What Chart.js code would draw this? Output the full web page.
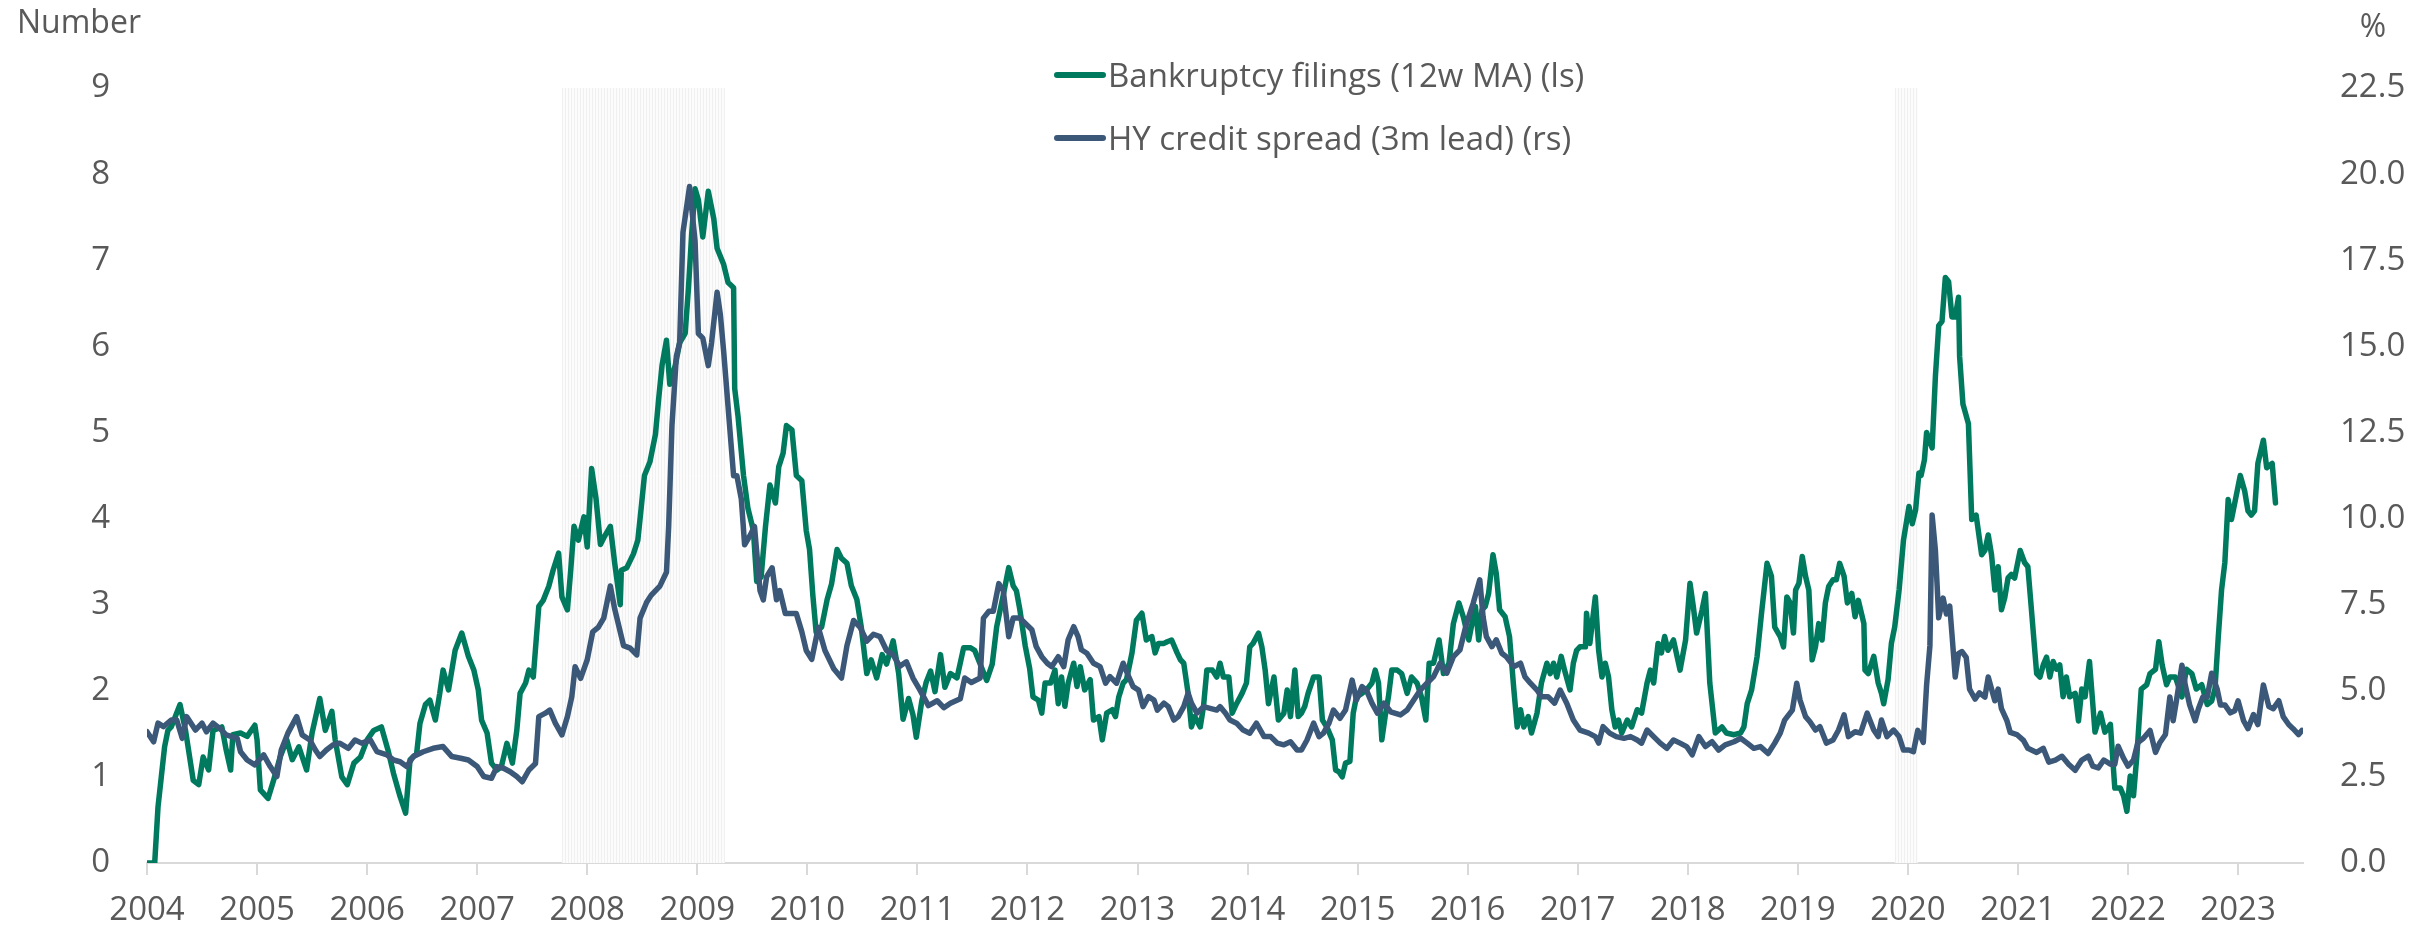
<!DOCTYPE html>
<html>
<head>
<meta charset="utf-8">
<script src="https://cdn.jsdelivr.net/npm/chart.js@4.4.0/dist/chart.umd.min.js"></script>
<style>
  html, body { margin: 0; padding: 0; background: #ffffff; }
  #wrap { width: 2433px; height: 932px; position: relative; }
</style>
</head>
<body>
<div id="wrap"><canvas id="filingsChart"></canvas></div>
<script>
// values (dates as decimal years)

const seriesLabels = ["Bankruptcy filings (12w MA) (ls)", "HY credit spread (3m lead) (rs)"];
const axisTitles = ["Number", "%"];

// recession shading, start and end in decimal years
const recessionBands = [
  [2007.77, 2009.25],
  [2019.88, 2020.09],
];

const bankruptcyDates = [
  2004.00, 2004.07, 2004.10, 2004.13, 2004.16, 2004.19, 2004.22, 2004.30, 2004.35, 2004.42, 2004.47, 2004.51, 2004.56, 2004.60, 2004.68, 2004.72, 2004.76, 2004.78, 2004.85, 2004.91, 2004.98,
  2005.00, 2005.03, 2005.10, 2005.15, 2005.21, 2005.27, 2005.32, 2005.38, 2005.45, 2005.50, 2005.57, 2005.62, 2005.68, 2005.71, 2005.77, 2005.82, 2005.88, 2005.94,
  2006.00, 2006.06, 2006.13, 2006.19, 2006.24, 2006.30, 2006.35, 2006.39, 2006.45, 2006.48, 2006.53, 2006.57, 2006.62, 2006.66, 2006.69, 2006.74, 2006.80, 2006.86, 2006.92, 2006.97,
  2007.01, 2007.04, 2007.09, 2007.13, 2007.18, 2007.22, 2007.27, 2007.32, 2007.36, 2007.39, 2007.44, 2007.47, 2007.51, 2007.56, 2007.60, 2007.65, 2007.69, 2007.74, 2007.77, 2007.82, 2007.85, 2007.88, 2007.92, 2007.97,
  2008.00, 2008.04, 2008.08, 2008.12, 2008.16, 2008.21, 2008.25, 2008.30, 2008.31, 2008.36, 2008.42, 2008.46, 2008.49, 2008.52, 2008.57, 2008.62, 2008.65, 2008.68, 2008.72, 2008.75, 2008.80, 2008.84, 2008.89, 2008.92, 2008.95, 2008.98,
  2009.01, 2009.05, 2009.10, 2009.15, 2009.18, 2009.24, 2009.28, 2009.33, 2009.34, 2009.37, 2009.42, 2009.46, 2009.51, 2009.54, 2009.58, 2009.62, 2009.66, 2009.71, 2009.74, 2009.78, 2009.81, 2009.86, 2009.90, 2009.95, 2009.99,
  2010.02, 2010.05, 2010.08, 2010.13, 2010.18, 2010.22, 2010.27, 2010.31, 2010.36, 2010.40, 2010.45, 2010.49, 2010.54, 2010.58, 2010.63, 2010.68, 2010.72, 2010.78, 2010.83, 2010.87, 2010.92, 2010.96, 2010.99,
  2011.04, 2011.08, 2011.12, 2011.16, 2011.21, 2011.25, 2011.30, 2011.36, 2011.42, 2011.48, 2011.52, 2011.57, 2011.63, 2011.68, 2011.72, 2011.78, 2011.83, 2011.87, 2011.90, 2011.93, 2011.98, 2012.02,
  2012.05, 2012.10, 2012.13, 2012.16, 2012.21, 2012.25, 2012.28, 2012.31, 2012.34, 2012.37, 2012.42, 2012.45, 2012.48, 2012.52, 2012.57, 2012.60, 2012.65, 2012.68, 2012.72, 2012.77, 2012.80, 2012.83, 2012.87, 2012.90, 2012.95, 2012.99,
  2013.04, 2013.08, 2013.13, 2013.16, 2013.19, 2013.24, 2013.27, 2013.31, 2013.36, 2013.39, 2013.42, 2013.46, 2013.49, 2013.52, 2013.57, 2013.60, 2013.63, 2013.68, 2013.72, 2013.75, 2013.78, 2013.83, 2013.86, 2013.90, 2013.95, 2013.99,
  2014.02, 2014.05, 2014.10, 2014.13, 2014.16, 2014.19, 2014.24, 2014.28, 2014.33, 2014.36, 2014.39, 2014.43, 2014.46, 2014.49, 2014.52, 2014.55, 2014.60, 2014.65, 2014.68, 2014.72, 2014.77, 2014.80, 2014.83, 2014.86, 2014.89, 2014.93, 2014.96, 2014.99,
  2015.04, 2015.08, 2015.13, 2015.16, 2015.19, 2015.22, 2015.25, 2015.28, 2015.31, 2015.36, 2015.40, 2015.45, 2015.49, 2015.54, 2015.58, 2015.62, 2015.65, 2015.69, 2015.74, 2015.78, 2015.83, 2015.87, 2015.92, 2015.96,
  2016.01, 2016.07, 2016.10, 2016.13, 2016.16, 2016.19, 2016.23, 2016.26, 2016.29, 2016.34, 2016.38, 2016.42, 2016.45, 2016.48, 2016.51, 2016.55, 2016.58, 2016.63, 2016.67, 2016.72, 2016.75, 2016.78, 2016.81, 2016.85, 2016.88, 2016.93, 2016.96, 2016.99,
  2017.02, 2017.07, 2017.08, 2017.11, 2017.16, 2017.19, 2017.22, 2017.25, 2017.28, 2017.31, 2017.34, 2017.37, 2017.40, 2017.45, 2017.49, 2017.54, 2017.58, 2017.63, 2017.66, 2017.69, 2017.73, 2017.76, 2017.79, 2017.82, 2017.87, 2017.93, 2017.98,
  2018.02, 2018.05, 2018.08, 2018.13, 2018.16, 2018.20, 2018.25, 2018.31, 2018.35, 2018.42, 2018.48, 2018.51, 2018.54, 2018.58, 2018.63, 2018.67, 2018.72, 2018.76, 2018.79, 2018.84, 2018.87, 2018.90, 2018.93, 2018.96, 2018.98,
  2019.01, 2019.04, 2019.07, 2019.10, 2019.13, 2019.16, 2019.19, 2019.22, 2019.25, 2019.28, 2019.32, 2019.35, 2019.38, 2019.42, 2019.45, 2019.49, 2019.52, 2019.55, 2019.60, 2019.61, 2019.64, 2019.69, 2019.73, 2019.76, 2019.78, 2019.82, 2019.85, 2019.88, 2019.92, 2019.96,
  2020.01, 2020.04, 2020.07, 2020.10, 2020.12, 2020.15, 2020.17, 2020.22, 2020.25, 2020.28, 2020.31, 2020.34, 2020.37, 2020.40, 2020.43, 2020.46, 2020.47, 2020.50, 2020.55, 2020.58, 2020.62, 2020.67, 2020.70, 2020.73, 2020.76, 2020.79, 2020.82, 2020.85, 2020.88, 2020.91, 2020.94, 2020.97,
  2021.02, 2021.06, 2021.09, 2021.12, 2021.17, 2021.20, 2021.23, 2021.26, 2021.29, 2021.32, 2021.35, 2021.38, 2021.41, 2021.44, 2021.47, 2021.52, 2021.55, 2021.58, 2021.61, 2021.65, 2021.70, 2021.75, 2021.79, 2021.84, 2021.88, 2021.93, 2021.96, 2021.99,
  2022.02, 2022.05, 2022.08, 2022.12, 2022.17, 2022.20, 2022.25, 2022.28, 2022.31, 2022.35, 2022.38, 2022.43, 2022.49, 2022.53, 2022.58, 2022.62, 2022.67, 2022.72, 2022.76, 2022.79, 2022.82, 2022.85, 2022.88, 2022.91, 2022.94, 2022.97,
  2023.02, 2023.06, 2023.09, 2023.12, 2023.15, 2023.18, 2023.23, 2023.26, 2023.31, 2023.34,
];

const bankruptcyValues = [
  0, 0, 0.65, 1.00, 1.35, 1.54, 1.58, 1.84, 1.54, 0.96, 0.91, 1.23, 1.08, 1.54, 1.58, 1.31, 1.08, 1.49, 1.51, 1.47, 1.60,
  1.43, 0.85, 0.75, 0.96, 1.23, 1.43, 1.20, 1.35, 1.08, 1.51, 1.91, 1.54, 1.76, 1.43, 1.00, 0.91, 1.16, 1.23,
  1.43, 1.54, 1.58, 1.31, 1.04, 0.77, 0.58, 1.20, 1.27, 1.62, 1.84, 1.89, 1.66, 1.97, 2.24, 2.01, 2.47, 2.67, 2.40, 2.24,
  2.01, 1.66, 1.51, 1.16, 1.08, 1.12, 1.39, 1.16, 1.54, 1.97, 2.09, 2.24, 2.16, 2.98, 3.05, 3.21, 3.40, 3.60, 3.09, 2.94, 3.40, 3.91, 3.75, 4.02,
  3.67, 4.58, 4.23, 3.70, 3.80, 3.91, 3.48, 3.00, 3.40, 3.43, 3.59, 3.75, 4.12, 4.50, 4.66, 4.98, 5.40, 5.78, 6.07, 5.56, 5.78, 6.04, 6.15, 6.68, 7.32, 7.83,
  7.70, 7.27, 7.80, 7.48, 7.14, 6.95, 6.74, 6.68, 5.51, 5.19, 4.50, 4.12, 3.86, 3.27, 3.32, 3.91, 4.39, 4.18, 4.60, 4.76, 5.08, 5.03, 4.50, 4.44, 3.86,
  3.64, 3.11, 2.68, 2.74, 3.06, 3.24, 3.64, 3.54, 3.48, 3.22, 3.06, 2.74, 2.20, 2.36, 2.15, 2.42, 2.31, 2.58, 2.20, 1.67, 1.91, 1.72, 1.46,
  1.88, 2.10, 2.23, 1.99, 2.42, 2.04, 2.20, 2.15, 2.50, 2.50, 2.47, 2.31, 2.12, 2.31, 2.74, 3.11, 3.43, 3.22, 3.16, 2.95, 2.52, 2.26,
  1.93, 1.89, 1.74, 2.09, 2.09, 2.24, 1.85, 2.16, 1.82, 2.09, 2.32, 2.05, 2.28, 2.01, 2.13, 1.66, 1.70, 1.43, 1.74, 1.78, 1.70, 1.93, 2.09, 2.13, 2.44, 2.82,
  2.90, 2.59, 2.63, 2.44, 2.55, 2.55, 2.57, 2.59, 2.44, 2.36, 2.32, 1.97, 1.58, 1.70, 1.58, 1.82, 2.24, 2.24, 2.16, 2.32, 2.16, 2.16, 1.74, 1.85, 1.97, 2.09,
  2.51, 2.55, 2.67, 2.51, 2.24, 1.85, 2.16, 1.66, 1.74, 2.01, 1.70, 2.24, 1.70, 1.74, 1.82, 1.97, 2.16, 2.16, 1.66, 1.58, 1.43, 1.08, 1.06, 1.00, 1.16, 1.18, 1.74, 1.93,
  1.97, 2.01, 2.09, 2.24, 2.09, 1.43, 1.70, 1.93, 2.24, 2.24, 2.20, 1.97, 2.16, 2.09, 1.93, 1.66, 2.32, 2.32, 2.59, 2.20, 2.32, 2.78, 3.02, 2.86,
  2.59, 2.98, 2.59, 2.94, 2.98, 3.13, 3.58, 3.36, 2.94, 2.86, 2.63, 2.01, 1.58, 1.78, 1.58, 1.70, 1.51, 1.74, 2.09, 2.32, 2.20, 2.32, 2.16, 2.40, 2.24, 2.01, 2.32, 2.47,
  2.51, 2.51, 2.90, 2.55, 3.09, 2.47, 2.16, 2.32, 2.16, 1.78, 1.58, 1.66, 1.51, 1.66, 1.58, 1.78, 1.74, 2.09, 2.24, 2.09, 2.55, 2.44, 2.63, 2.47, 2.59, 2.24, 2.59,
  3.25, 2.98, 2.67, 2.94, 3.13, 2.09, 1.51, 1.58, 1.51, 1.49, 1.51, 1.58, 1.85, 2.01, 2.40, 2.90, 3.48, 3.33, 2.74, 2.63, 2.51, 3.09, 3.02, 2.67, 3.17,
  3.25, 3.56, 3.33, 3.17, 2.36, 2.51, 2.78, 2.59, 3.02, 3.21, 3.29, 3.29, 3.48, 3.33, 3.02, 3.13, 2.86, 3.05, 2.78, 2.24, 2.20, 2.40, 2.09, 1.97, 1.85, 2.13, 2.55, 2.74, 3.17, 3.75,
  4.14, 3.94, 4.10, 4.53, 4.50, 4.68, 5.00, 4.82, 5.65, 6.24, 6.29, 6.80, 6.75, 6.34, 6.34, 6.57, 5.88, 5.33, 5.10, 3.99, 4.04, 3.58, 3.63, 3.81, 3.58, 3.17, 3.44, 2.94, 3.08, 3.31, 3.35, 3.31,
  3.63, 3.49, 3.44, 2.98, 2.20, 2.16, 2.30, 2.39, 2.16, 2.34, 2.25, 2.30, 1.93, 2.16, 1.93, 1.97, 1.65, 2.02, 1.93, 2.34, 1.52, 1.74, 1.52, 1.61, 0.87, 0.87, 0.78, 0.60,
  1.01, 0.78, 1.24, 2.02, 2.07, 2.20, 2.25, 2.57, 2.30, 2.07, 2.16, 2.16, 1.93, 2.25, 2.20, 2.02, 2.07, 1.84, 1.88, 2.02, 2.62, 3.17, 3.49, 4.22, 3.99, 4.18,
  4.50, 4.32, 4.09, 4.04, 4.09, 4.64, 4.91, 4.59, 4.64, 4.18,
];

const spreadDates = [
  2004.00, 2004.06, 2004.10, 2004.15, 2004.22, 2004.27, 2004.32, 2004.36, 2004.44, 2004.50, 2004.54, 2004.60, 2004.66, 2004.72, 2004.82, 2004.85, 2004.91, 2004.98,
  2005.06, 2005.12, 2005.18, 2005.22, 2005.28, 2005.36, 2005.41, 2005.48, 2005.53, 2005.57, 2005.63, 2005.69, 2005.75, 2005.83, 2005.89, 2005.95,
  2006.03, 2006.09, 2006.18, 2006.24, 2006.30, 2006.36, 2006.42, 2006.51, 2006.60, 2006.69, 2006.77, 2006.85, 2006.92,
  2007.00, 2007.06, 2007.13, 2007.18, 2007.24, 2007.30, 2007.36, 2007.41, 2007.47, 2007.53, 2007.56, 2007.62, 2007.66, 2007.71, 2007.77, 2007.82, 2007.86, 2007.89, 2007.94,
  2008.00, 2008.05, 2008.10, 2008.15, 2008.21, 2008.25, 2008.30, 2008.33, 2008.39, 2008.45, 2008.48, 2008.54, 2008.58, 2008.66, 2008.72, 2008.74, 2008.77, 2008.81, 2008.84, 2008.87, 2008.93, 2008.98,
  2009.01, 2009.05, 2009.10, 2009.13, 2009.18, 2009.21, 2009.24, 2009.28, 2009.33, 2009.36, 2009.40, 2009.43, 2009.48, 2009.52, 2009.57, 2009.60, 2009.63, 2009.68, 2009.72, 2009.75, 2009.80, 2009.86, 2009.90, 2009.95, 2009.99,
  2010.04, 2010.10, 2010.16, 2010.24, 2010.31, 2010.36, 2010.42, 2010.48, 2010.54, 2010.60, 2010.66, 2010.72, 2010.78, 2010.84, 2010.90, 2010.96,
  2011.02, 2011.10, 2011.18, 2011.24, 2011.30, 2011.39, 2011.43, 2011.49, 2011.57, 2011.60, 2011.65, 2011.69, 2011.74, 2011.78, 2011.83, 2011.87, 2011.93,
  2012.04, 2012.08, 2012.13, 2012.18, 2012.22, 2012.28, 2012.33, 2012.37, 2012.42, 2012.46, 2012.49, 2012.54, 2012.60, 2012.66, 2012.71, 2012.75, 2012.81, 2012.87, 2012.92, 2012.96,
  2013.01, 2013.05, 2013.10, 2013.15, 2013.18, 2013.24, 2013.28, 2013.33, 2013.37, 2013.42, 2013.46, 2013.49, 2013.54, 2013.60, 2013.66, 2013.72, 2013.75, 2013.80, 2013.84, 2013.90, 2013.96,
  2014.02, 2014.08, 2014.15, 2014.21, 2014.27, 2014.33, 2014.39, 2014.45, 2014.49, 2014.54, 2014.60, 2014.65, 2014.69, 2014.74, 2014.78, 2014.84, 2014.89, 2014.95, 2014.99,
  2015.04, 2015.08, 2015.13, 2015.18, 2015.24, 2015.30, 2015.39, 2015.45, 2015.51, 2015.57, 2015.63, 2015.69, 2015.75, 2015.81, 2015.87, 2015.93, 2015.99,
  2016.05, 2016.11, 2016.14, 2016.17, 2016.22, 2016.26, 2016.31, 2016.35, 2016.42, 2016.48, 2016.52, 2016.57, 2016.63, 2016.67, 2016.73, 2016.79, 2016.84, 2016.90, 2016.96,
  2017.02, 2017.10, 2017.16, 2017.19, 2017.23, 2017.29, 2017.35, 2017.42, 2017.48, 2017.54, 2017.58, 2017.63, 2017.69, 2017.75, 2017.81, 2017.87, 2017.93, 2017.99,
  2018.04, 2018.10, 2018.16, 2018.22, 2018.28, 2018.34, 2018.42, 2018.48, 2018.54, 2018.60, 2018.66, 2018.73, 2018.79, 2018.84, 2018.88, 2018.95, 2018.99,
  2019.02, 2019.07, 2019.11, 2019.16, 2019.20, 2019.26, 2019.32, 2019.37, 2019.42, 2019.46, 2019.52, 2019.57, 2019.63, 2019.69, 2019.73, 2019.76, 2019.81, 2019.87, 2019.92, 2019.96,
  2020.01, 2020.05, 2020.09, 2020.14, 2020.17, 2020.20, 2020.22, 2020.25, 2020.28, 2020.32, 2020.35, 2020.38, 2020.40, 2020.43, 2020.46, 2020.49, 2020.53, 2020.56, 2020.61, 2020.65, 2020.70, 2020.73, 2020.76, 2020.79, 2020.82, 2020.85, 2020.90, 2020.93, 2020.99,
  2021.05, 2021.09, 2021.17, 2021.23, 2021.28, 2021.34, 2021.40, 2021.46, 2021.52, 2021.58, 2021.64, 2021.68, 2021.73, 2021.78, 2021.84, 2021.88, 2021.91, 2021.96,
  2022.00, 2022.05, 2022.09, 2022.14, 2022.20, 2022.25, 2022.29, 2022.34, 2022.38, 2022.41, 2022.44, 2022.49, 2022.52, 2022.56, 2022.61, 2022.64, 2022.68, 2022.72, 2022.76, 2022.81, 2022.84, 2022.88, 2022.93, 2022.97,
  2023.00, 2023.05, 2023.09, 2023.14, 2023.18, 2023.23, 2023.28, 2023.32, 2023.37, 2023.41, 2023.46, 2023.50, 2023.55, 2023.58,
];

const spreadValues = [
  3.81, 3.52, 4.06, 3.96, 4.15, 4.15, 3.62, 4.25, 3.86, 4.06, 3.81, 4.06, 3.91, 3.72, 3.62, 3.23, 2.99, 2.85,
  3.14, 2.80, 2.51, 3.28, 3.77, 4.25, 3.72, 3.57, 3.28, 3.09, 3.28, 3.43, 3.48, 3.33, 3.57, 3.48,
  3.57, 3.23, 3.14, 2.99, 2.94, 2.80, 3.09, 3.23, 3.33, 3.38, 3.09, 3.04, 2.99,
  2.80, 2.51, 2.46, 2.80, 2.75, 2.65, 2.51, 2.36, 2.70, 2.89, 4.25, 4.35, 4.44, 4.06, 3.72, 4.25, 4.83, 5.70, 5.36,
  5.90, 6.71, 6.84, 7.11, 8.04, 7.37, 6.71, 6.31, 6.24, 6.04, 7.11, 7.57, 7.77, 8.04, 8.44, 9.77, 12.71, 14.71, 15.11, 18.31, 19.64, 18.04,
  15.37, 15.24, 14.44, 15.11, 16.57, 15.91, 14.84, 13.24, 11.24, 11.24, 10.57, 9.24, 9.51, 9.77, 7.91, 7.64, 8.31, 8.57, 7.64, 7.91, 7.24, 7.24, 7.24, 6.71, 6.17,
  5.91, 6.84, 6.17, 5.64, 5.37, 6.31, 7.04, 6.84, 6.44, 6.64, 6.57, 6.17, 6.04, 5.71, 5.84, 5.37,
  5.04, 4.57, 4.71, 4.51, 4.64, 4.77, 5.37, 5.24, 5.37, 7.11, 7.31, 7.31, 8.11, 7.91, 6.57, 7.11, 7.11,
  6.77, 6.28, 5.99, 5.80, 5.70, 5.99, 5.70, 6.48, 6.86, 6.57, 6.19, 6.09, 5.80, 5.70, 5.22, 5.41, 5.22, 5.80, 5.41, 5.12,
  5.02, 4.54, 4.83, 4.73, 4.44, 4.64, 4.54, 4.15, 4.25, 4.54, 4.93, 4.64, 4.35, 4.54, 4.49, 4.44, 4.54, 4.35, 4.15, 4.06, 3.86,
  3.77, 4.06, 3.67, 3.67, 3.48, 3.43, 3.52, 3.28, 3.28, 3.57, 4.06, 3.67, 3.77, 4.06, 4.44, 4.20, 4.44, 5.31, 4.73,
  5.12, 5.02, 4.64, 4.35, 4.64, 4.39, 4.30, 4.44, 4.73, 5.02, 5.22, 5.41, 5.80, 5.51, 5.99, 6.19, 6.96,
  7.54, 8.22, 7.15, 6.57, 6.28, 6.48, 6.09, 5.99, 5.70, 5.80, 5.41, 5.22, 5.02, 4.83, 4.83, 4.64, 5.02, 4.64, 4.15,
  3.86, 3.77, 3.67, 3.48, 3.96, 3.77, 3.67, 3.62, 3.67, 3.57, 3.48, 3.86, 3.67, 3.48, 3.33, 3.57, 3.48, 3.38,
  3.14, 3.67, 3.38, 3.52, 3.28, 3.43, 3.52, 3.62, 3.48, 3.33, 3.38, 3.18, 3.48, 3.77, 4.15, 4.44, 5.22,
  4.73, 4.25, 4.10, 3.86, 3.96, 3.48, 3.57, 3.86, 4.30, 3.67, 3.81, 3.77, 4.35, 3.86, 3.67, 4.15, 3.67, 3.86, 3.67, 3.28,
  3.28, 3.23, 3.85, 3.50, 5.17, 6.31, 10.10, 9.07, 7.12, 7.69, 7.23, 7.46, 6.66, 5.40, 6.08, 6.14, 5.97, 5.05, 4.76, 4.94, 4.82, 5.40, 5.05, 4.71, 5.05, 4.48, 4.13, 3.79, 3.73,
  3.56, 3.33, 3.21, 3.33, 2.93, 2.99, 3.10, 2.87, 2.69, 2.99, 3.10, 2.81, 2.76, 2.99, 2.87, 2.87, 3.39, 3.04,
  2.81, 2.99, 3.50, 3.62, 3.85, 3.21, 3.50, 3.73, 4.82, 4.13, 4.71, 5.74, 5.17, 4.59, 4.13, 4.48, 4.82, 4.82, 5.51, 5.05, 4.59, 4.59, 4.36, 4.42,
  4.71, 4.13, 3.90, 4.31, 4.02, 5.17, 4.54, 4.48, 4.71, 4.25, 4.02, 3.90, 3.73, 3.85,
];

const GREEN = "#007a5e";
const NAVY = "#3b5878";
const TEXT = "#595959";
const FONT = "'Open Sans', sans-serif";

Chart.defaults.font.family = FONT;
Chart.defaults.color = TEXT;

function toPoints(dates, values) {
  return dates.map((d, i) => ({ x: d, y: values[i] }));
}

// grey hatched recession bands behind the lines
const bandsPlugin = {
  id: "recessionBands",
  beforeDatasetsDraw(chart) {
    const { ctx, scales } = chart;
    const top = scales.yLeft.getPixelForValue(9);
    const bottom = scales.yLeft.getPixelForValue(0);
    ctx.save();
    recessionBands.forEach(([start, end]) => {
      const x0 = scales.x.getPixelForValue(start);
      const x1 = scales.x.getPixelForValue(end);
      ctx.fillStyle = "#fcfcfc";
      ctx.fillRect(x0, top, x1 - x0, bottom - top);
      ctx.strokeStyle = "#f0f0f0";
      ctx.lineWidth = 1;
      for (let px = Math.round(x0) + 0.5; px < x1; px += 3) {
        ctx.beginPath();
        ctx.moveTo(px, top);
        ctx.lineTo(px, bottom);
        ctx.stroke();
      }
    });
    ctx.restore();
  },
};

// legend inside the plot and the two axis titles at the top corners
const labelsPlugin = {
  id: "insideLabels",
  afterDraw(chart) {
    const { ctx } = chart;
    ctx.save();
    ctx.font = "33px " + FONT;
    ctx.textBaseline = "alphabetic";
    ctx.textAlign = "left";
    chart.data.datasets.forEach((ds, i) => {
      const y = 75 + i * 63;
      ctx.strokeStyle = ds.borderColor;
      ctx.lineWidth = 6;
      ctx.lineCap = "round";
      ctx.beginPath();
      ctx.moveTo(1057, y);
      ctx.lineTo(1103, y);
      ctx.stroke();
      ctx.fillStyle = TEXT;
      ctx.fillText(ds.label, 1108, y + 12);
    });

    ctx.font = "32px " + FONT;
    ctx.fillText(axisTitles[0], 17, 33);
    ctx.textAlign = "center";
    ctx.fillText(axisTitles[1], 2373, 37);
    ctx.restore();
  },
};

new Chart(document.getElementById("filingsChart"), {
  type: "line",
  data: {
    datasets: [
      {
        label: seriesLabels[0],
        data: toPoints(bankruptcyDates, bankruptcyValues),
        yAxisID: "yLeft",
        borderColor: GREEN,
        borderWidth: 5.5,
        order: 1,
      },
      {
        label: seriesLabels[1],
        data: toPoints(spreadDates, spreadValues),
        yAxisID: "yRight",
        borderColor: NAVY,
        borderWidth: 5.5,
        order: 0,
      },
    ],
  },
  options: {
    responsive: true,
    maintainAspectRatio: false,
    animation: false,
    parsing: false,
    layout: { padding: { top: 88, left: 0, right: 0, bottom: 0 } },
    elements: {
      point: { radius: 0 },
      line: { tension: 0, borderJoinStyle: "round", borderCapStyle: "round" },
    },
    plugins: {
      legend: { display: false },
      tooltip: { enabled: false },
    },
    scales: {
      x: {
        type: "linear",
        min: 2004,
        max: 2023.59,
        afterFit(scale) { scale.height = 69; },
        grid: { drawOnChartArea: false, drawTicks: true, tickLength: 12, color: "#d9d9d9", lineWidth: 2 },
        border: { display: true, color: "#d9d9d9", width: 2 },
        ticks: {
          stepSize: 1,
          includeBounds: false,
          autoSkip: false,
          maxRotation: 0,
          padding: 16,
          font: { size: 33 },
          callback: (v) => String(v),
        },
      },
      yLeft: {
        position: "left",
        min: 0,
        max: 9,
        afterFit(scale) { scale.width = 147; },
        grid: { display: false, drawTicks: false },
        border: { display: false },
        ticks: { stepSize: 1, padding: 37, font: { size: 33 } },
      },
      yRight: {
        position: "right",
        min: 0,
        max: 22.5,
        afterFit(scale) { scale.width = 130; },
        grid: { display: false, drawTicks: false },
        border: { display: false },
        ticks: { stepSize: 2.5, padding: 37, font: { size: 33 }, callback: (v) => v.toFixed(1) },
      },
    },
  },
  plugins: [bandsPlugin, labelsPlugin],
});
</script>
</body>
</html>
